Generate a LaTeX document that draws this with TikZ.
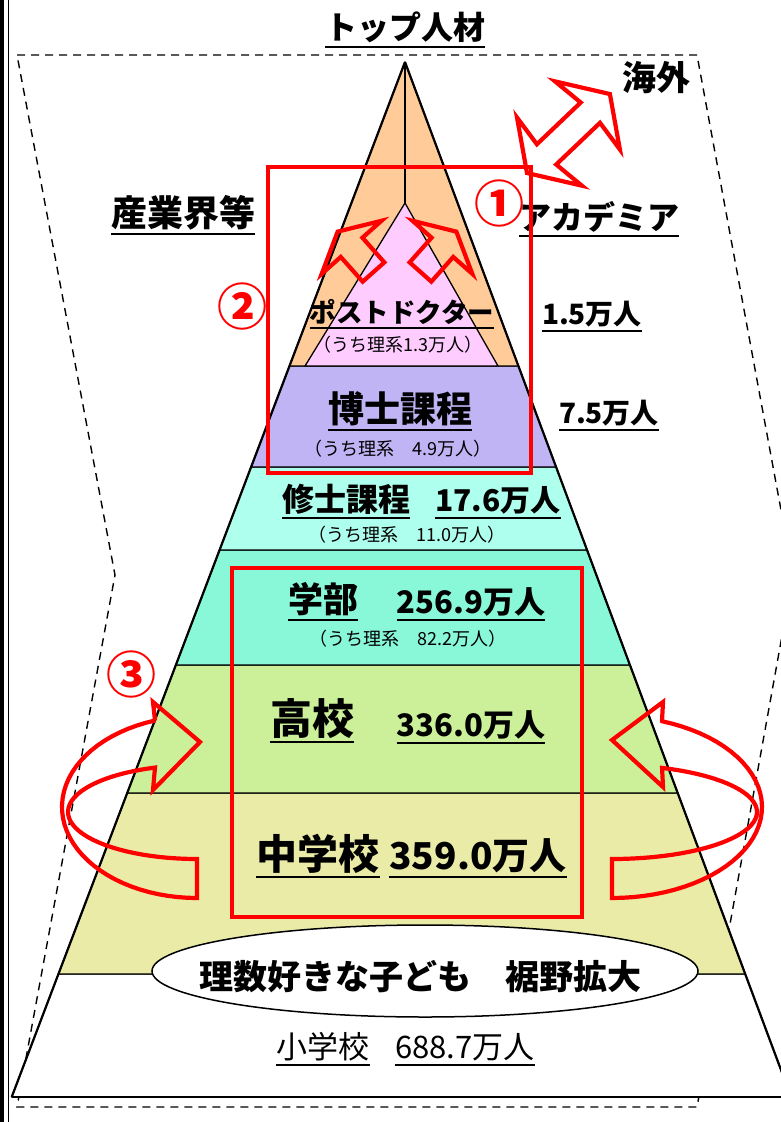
\documentclass[tikz,border=0pt]{standalone}
\usepackage{fontspec}
\setmainfont{Noto Sans CJK JP}
\usetikzlibrary{shapes.geometric}
\newcommand{\fsz}[1]{\fontsize{#1pt}{#1pt}\selectfont}
\definecolor{cOrange}{HTML}{FFCC99}
\definecolor{cPink}{HTML}{FFCCFF}
\definecolor{cPurple}{RGB}{192,180,245}
\definecolor{cAqua}{HTML}{AFFFEE}
\definecolor{cTeal}{HTML}{88F8D8}
\definecolor{cGreen}{HTML}{CCF099}
\definecolor{cYellow}{HTML}{EBEBA8}
\tikzset{
  ulline/.style={draw=black, line width=2.2pt},
  ul/.style={inner xsep=0pt, inner ysep=3.5pt, anchor=south,
    append after command={\pgfextra{\let\ulnode=\tikzlastnode}
      (\ulnode.south west) edge[ulline, line width=#1] (\ulnode.south east)}},
  ul/.default=2.2pt,
  sub/.style={font=\fsz{18}, inner sep=0pt},
  layer/.style={draw=black, line width=1.3pt, line join=round},
  edgeline/.style={draw=black, line width=2.2pt},
  dashline/.style={draw=black, line width=1.4pt, dash pattern=on 8pt off 6pt},
  redbox/.style={draw=red, line width=4.8pt},
  redarrow/.style={draw=red, line width=4.2pt, line join=miter},
  num/.style={text=red, font=\bfseries\fsz{50}, inner sep=0pt},
}
\begin{document}
\begin{tikzpicture}[x=1pt,y=-1pt]
\useasboundingbox (0,0) rectangle (781,1122);
% left frame
\draw[line width=3.5pt] (2,0) -- (2,1122);
\draw[line width=1.3pt] (8.5,0) -- (8.5,1122);
% dashed outline
\draw[dashline] (17,55) -- (697,55) -- (793,575) -- (697,1107) -- (17,1107) -- (115,575) -- cycle;
% pyramid layers
\filldraw[layer, fill=white] (58.4,974) -- (745.2,974) -- (791.1,1097) -- (11.7,1097) -- cycle;
\filldraw[layer, fill=cYellow] (127.2,793) -- (677.7,793) -- (745.2,974) -- (58.4,974) -- cycle;
\filldraw[layer, fill=cGreen] (175.9,665) -- (629.9,665) -- (677.7,793) -- (127.2,793) -- cycle;
\filldraw[layer, fill=cTeal] (219.6,550) -- (587,550) -- (629.9,665) -- (175.9,665) -- cycle;
\filldraw[layer, fill=cAqua] (251.1,467) -- (556.1,467) -- (587,550) -- (219.6,550) -- cycle;
\filldraw[layer, fill=cPurple] (289.5,366) -- (518.4,366) -- (556.1,467) -- (251.1,467) -- cycle;
\filldraw[layer, fill=cOrange] (405,62) -- (518.4,366) -- (289.5,366) -- cycle;
\filldraw[layer, fill=cPink] (405,203) -- (498,366) -- (305,366) -- cycle;
\draw[layer] (405,62) -- (405,203);
\draw[edgeline] (405,62) -- (11.7,1097);
\draw[edgeline] (405,62) -- (791.1,1097);
\draw[edgeline] (11.7,1097) -- (791.1,1097);
% ellipse
\node[ellipse, draw=black, fill=white, line width=1.5pt, minimum width=546, minimum height=92, inner sep=0pt] (ell) at (425,971) {};
% labels
\node[ul, font=\bfseries\fsz{32}] (top) at (405,47) {トップ人材};
\node[font=\bfseries\fsz{34}, inner sep=0pt] (kaigai) at (656,78) {海外};
\node[ul, font=\bfseries\fsz{36}] (sangyo) at (183,234) {産業界等};
\node[ul, font=\bfseries\fsz{32}] (acad) at (599,236) {アカデミア};
\node[ul, font=\bfseries\fsz{26.5}] (pd) at (402,328) {ポストドクター};
\node[sub] (pds) at (398,345) {（うち理系1.3万人）};
\node[ul, font=\bfseries\fsz{28}] (pdn) at (592,331) {1.5万人};
\node[ul, font=\bfseries\fsz{36}] (dc) at (400,430) {博士課程};
\node[sub] (dcs) at (398,449) {（うち理系　4.9万人）};
\node[ul, font=\bfseries\fsz{28}] (dcn) at (609,430) {7.5万人};
\node[ul, font=\bfseries\fsz{32}] (mc) at (346,518) {修士課程};
\node[ul, font=\bfseries\fsz{30}] (mcn) at (498,518) {17.6万人};
\node[sub] (mcs) at (407,535) {（うち理系　11.0万人）};
\node[ul, font=\bfseries\fsz{35}] (ug) at (323,620) {学部};
\node[ul, font=\bfseries\fsz{31}] (ugn) at (471,620) {256.9万人};
\node[sub] (ugs) at (408,639) {（うち理系　82.2万人）};
\node[ul, font=\bfseries\fsz{42}] (hs) at (312,742) {高校};
\node[ul, font=\bfseries\fsz{31}] (hsn) at (471,743) {336.0万人};
\node[ul, font=\bfseries\fsz{41}] (jhs) at (318,877) {中学校};
\node[ul, font=\bfseries\fsz{37}] (jhsn) at (478,877) {359.0万人};
\node[font=\bfseries\fsz{34}, inner sep=0pt] (elltxt) at (420,977) {理数好きな子ども　裾野拡大};
\node[ul=1.6pt, font=\fsz{31}] (es) at (323,1065) {小学校};
\node[ul=1.6pt, font=\fsz{31}] (esn) at (465,1065) {688.7万人};
% red boxes
\draw[redbox] (268,167) rectangle (531,473);
\draw[redbox] (232,568) rectangle (582,917);
% small arrows
\begin{scope}[shift={(373.5,272)}, rotate=131.6]
\draw[redarrow] (0,14.5) -- (33,14.5) -- (33,40) -- (54,0) -- (33,-40) -- (33,-14.5) -- (0,-14.5) -- cycle;
\end{scope}
\begin{scope}[shift={(420.5,272)}, rotate=48.4]
\draw[redarrow] (0,14.5) -- (33,14.5) -- (33,40) -- (54,0) -- (33,-40) -- (33,-14.5) -- (0,-14.5) -- cycle;
\end{scope}
% big double arrow
\begin{scope}[shift={(527,173)}, rotate=43.6]
\draw[redarrow] (0,0) -- (31,47) -- (27,14) -- (87.5,14) -- (83.5,47) -- (114.5,0) -- (83.5,-47) -- (87.5,-14) -- (27,-14) -- (31,-47) -- cycle;
\end{scope}
% curved arrows
\draw[redarrow] plot[domain=90:251, samples=40, variable=\t] ({197+129*cos(\t)},{812+47*sin(\t)})
  -- (153,790) -- (200,742) -- (153,702) -- (155,720.5)
  -- plot[domain=252:90, samples=40, variable=\t] ({197+135*cos(\t)},{807+91*sin(\t)}) -- cycle;
\draw[redarrow] plot[domain=90:-69.8, samples=40, variable=\t] ({612+145*cos(\t)},{812+47*sin(\t)})
  -- (663,787) -- (612,740) -- (663,702) -- (662,721)
  -- plot[domain=-70.5:90, samples=40, variable=\t] ({612+150*cos(\t)},{807+91*sin(\t)}) -- cycle;
% circled numbers
\node[num] (n1) at (499,203) {①};
\node[num] (n2) at (242,306) {②};
\node[num] (n3) at (131,674) {③};
\end{tikzpicture}
\end{document}
